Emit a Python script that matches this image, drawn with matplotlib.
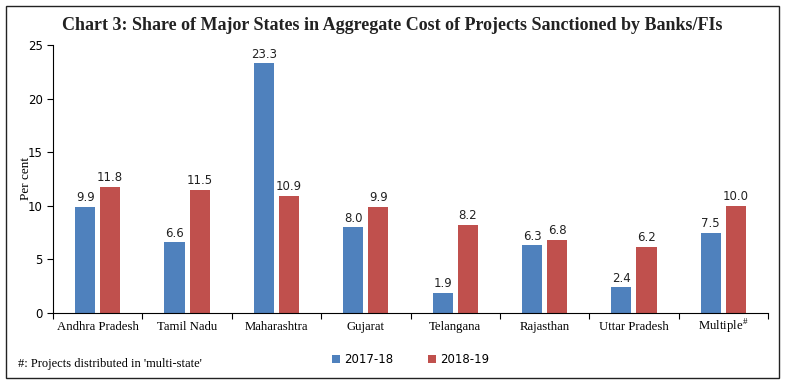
import matplotlib
matplotlib.use("Agg")
import matplotlib.pyplot as plt
import numpy as np
from matplotlib.patches import Rectangle

states = ["Andhra Pradesh", "Tamil Nadu", "Maharashtra", "Gujarat",
          "Telangana", "Rajasthan", "Uttar Pradesh", "Multiple$^{\\#}$"]
share_1718 = [9.9, 6.6, 23.3, 8.0, 1.9, 6.3, 2.4, 7.5]
share_1819 = [11.8, 11.5, 10.9, 9.9, 8.2, 6.8, 6.2, 10.0]
series_names = ["2017-18", "2018-19"]
yticks = [0, 5, 10, 15, 20, 25]

blue = "#4F81BD"
red = "#C0504D"
serif = "Liberation Serif"
sans = "DejaVu Sans"

plt.rcParams["mathtext.fontset"] = "custom"
plt.rcParams["mathtext.rm"] = serif

fig = plt.figure(figsize=(7.85, 3.86), dpi=100)
ax = fig.add_axes([53 / 785, 1 - 313 / 386, (768 - 53) / 785, (313 - 45) / 386])

x = np.arange(len(states))
w = 0.225
off = 0.14
b1 = ax.bar(x - off, share_1718, w, color=blue, label=series_names[0])
b2 = ax.bar(x + off, share_1819, w, color=red, label=series_names[1])

for bars, vals in ((b1, share_1718), (b2, share_1819)):
    for b, v in zip(bars, vals):
        ax.text(b.get_x() + b.get_width() / 2, v + 0.25, f"{v:.1f}",
                ha="center", va="bottom", fontsize=8.5, family=sans, color="#222222")

ax.set_xlim(-0.5, len(states) - 0.5)
ax.set_ylim(0, 25)
ax.set_yticks(yticks)
ax.tick_params(axis="y", labelsize=8.5, direction="out", length=4, width=0.8)
for lab in ax.get_yticklabels():
    lab.set_family(sans)

ax.set_xticks(np.arange(len(states) + 1) - 0.5)
ax.set_xticklabels([])
ax.tick_params(axis="x", direction="out", length=4, width=0.8)
for i, s in enumerate(states):
    ax.text(i, -1.6, s, ha="center", va="baseline", fontsize=9.2, family=serif)

ax.spines["top"].set_visible(False)
ax.spines["right"].set_visible(False)
ax.set_ylabel("Per cent", fontsize=9.5, family=serif)
ax.yaxis.set_label_coords(-0.03, 0.5)

ax.legend(loc="upper center", bbox_to_anchor=(0.5, -0.11), ncol=2,
          frameon=False, handlelength=0.7, handleheight=0.7,
          handletextpad=0.3, columnspacing=3.0,
          prop={"family": sans, "size": 8.5})

fig.text(392 / 785, 1 - 25 / 386,
         "Chart 3: Share of Major States in Aggregate Cost of Projects Sanctioned by Banks/FIs",
         ha="center", va="center", fontsize=13, family=serif, fontweight="bold",
         color="#222222")
fig.text(18 / 785, 1 - 364 / 386, "#: Projects distributed in 'multi-state'",
         ha="left", va="center", fontsize=9, family=serif)

fig.patches.append(Rectangle((6 / 785, 8 / 386), 773 / 785, 372 / 386,
                             transform=fig.transFigure, fill=False,
                             edgecolor="#222222", linewidth=1))

fig.savefig("out.png", dpi=100)
